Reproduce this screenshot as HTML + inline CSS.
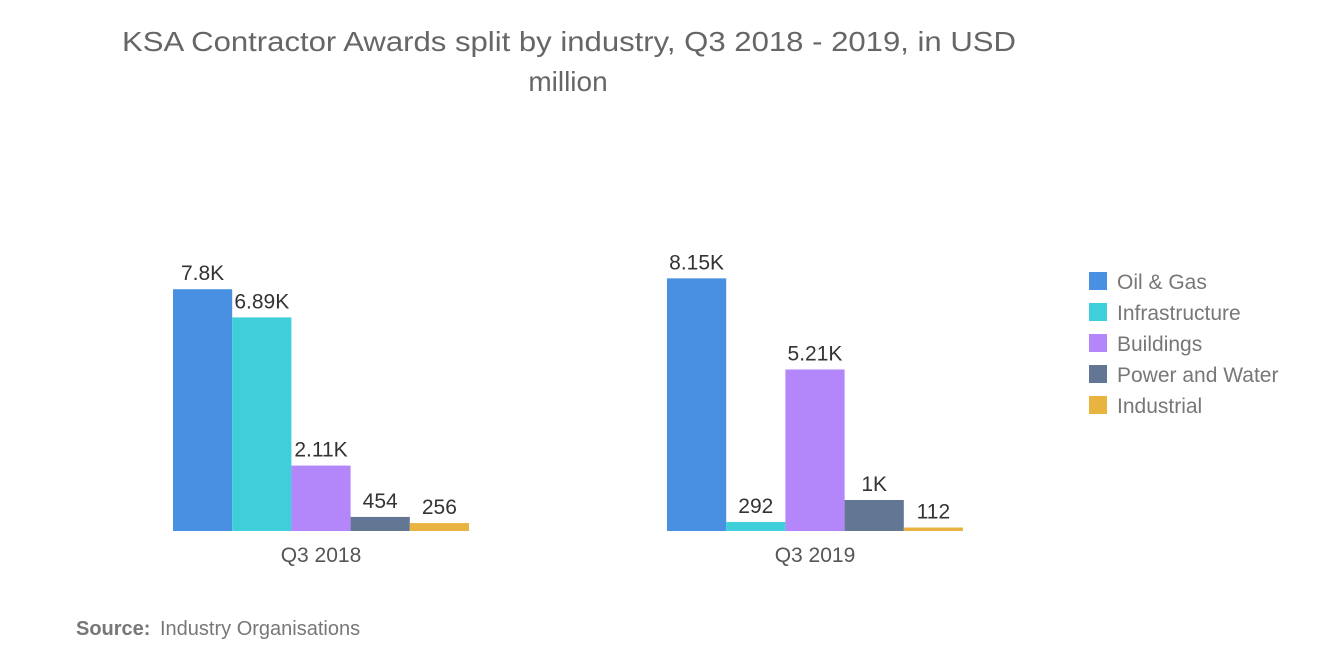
<!DOCTYPE html>
<html><head><meta charset="utf-8"><style>
body{margin:0;background:#fff;font-family:"Liberation Sans",sans-serif;}
svg{display:block}
</style></head><body>
<svg width="1320" height="665" xmlns="http://www.w3.org/2000/svg">
<text x="122" y="51" font-size="28" fill="#666" textLength="894" lengthAdjust="spacingAndGlyphs">KSA Contractor Awards split by industry, Q3 2018 - 2019, in USD</text>
<text x="568" y="91" font-size="28" fill="#666" text-anchor="middle">million</text>
<g id="bars"></g>
<g id="legend"></g>
<text x="76" y="635" font-size="20" fill="#777" font-weight="bold">Source:</text>
<text x="160" y="635" font-size="20" fill="#777">Industry Organisations</text>
</svg>
<script>
const categories = ["Q3 2018", "Q3 2019"];
const seriesNames = ["Oil &amp; Gas", "Infrastructure", "Buildings", "Power and Water", "Industrial"];
const oilGas = [7800, 8150];
const infrastructure = [6890, 292];
const buildings = [2110, 5210];
const powerWater = [454, 1000];
const industrial = [256, 112];
const valueLabels = [["7.8K","6.89K","2.11K","454","256"],["8.15K","292","5.21K","1K","112"]];
const colors = ["#4a90e2","#3ecfdb","#b386f9","#637694","#e8b33f"];
const series = [oilGas, infrastructure, buildings, powerWater, industrial];
const NS = "http://www.w3.org/2000/svg";
const baseY = 531, scale = 0.031, groupX = [173, 667], barW = 59.2;
function yScale(v){ return baseY - v*scale; }
const g = document.getElementById('bars');
categories.forEach((c, ci) => {
  series.forEach((s, si) => {
    const v = s[ci];
    const x = groupX[ci] + si*barW;
    const r = document.createElementNS(NS,'rect');
    
    
    const y = yScale(v);
    r.setAttribute('x', x); r.setAttribute('y', y);
    r.setAttribute('width', barW); r.setAttribute('height', baseY - y);
    r.setAttribute('fill', colors[si]);
    g.appendChild(r);
    const t = document.createElementNS(NS,'text');
    
    
    t.setAttribute('x', x + barW/2); t.setAttribute('y', y - 9);
    t.setAttribute('text-anchor','middle'); t.setAttribute('font-size','21'); t.setAttribute('fill','#333');
    t.textContent = valueLabels[ci][si];
    g.appendChild(t);
  });
  const ct = document.createElementNS(NS,'text');
  
  
  ct.setAttribute('x', groupX[ci] + barW*2.5); ct.setAttribute('y', 562);
  ct.setAttribute('text-anchor','middle'); ct.setAttribute('font-size','21'); ct.setAttribute('fill','#555');
  ct.textContent = c;
  g.appendChild(ct);
});
const lg = document.getElementById('legend');
seriesNames.forEach((n, i) => {
  const cy = 281 + i*31;
  const r = document.createElementNS(NS,'rect');
  
  
  r.setAttribute('x', 1089); r.setAttribute('y', cy - 9); r.setAttribute('width', 18); r.setAttribute('height', 18);
  r.setAttribute('fill', colors[i]);
  lg.appendChild(r);
  const t = document.createElementNS(NS,'text');
  
  
  t.setAttribute('x', 1117); t.setAttribute('y', cy + 8);
  t.setAttribute('font-size','21'); t.setAttribute('fill','#777');
  t.innerHTML = n;
  lg.appendChild(t);
});
</script>
</body></html>
